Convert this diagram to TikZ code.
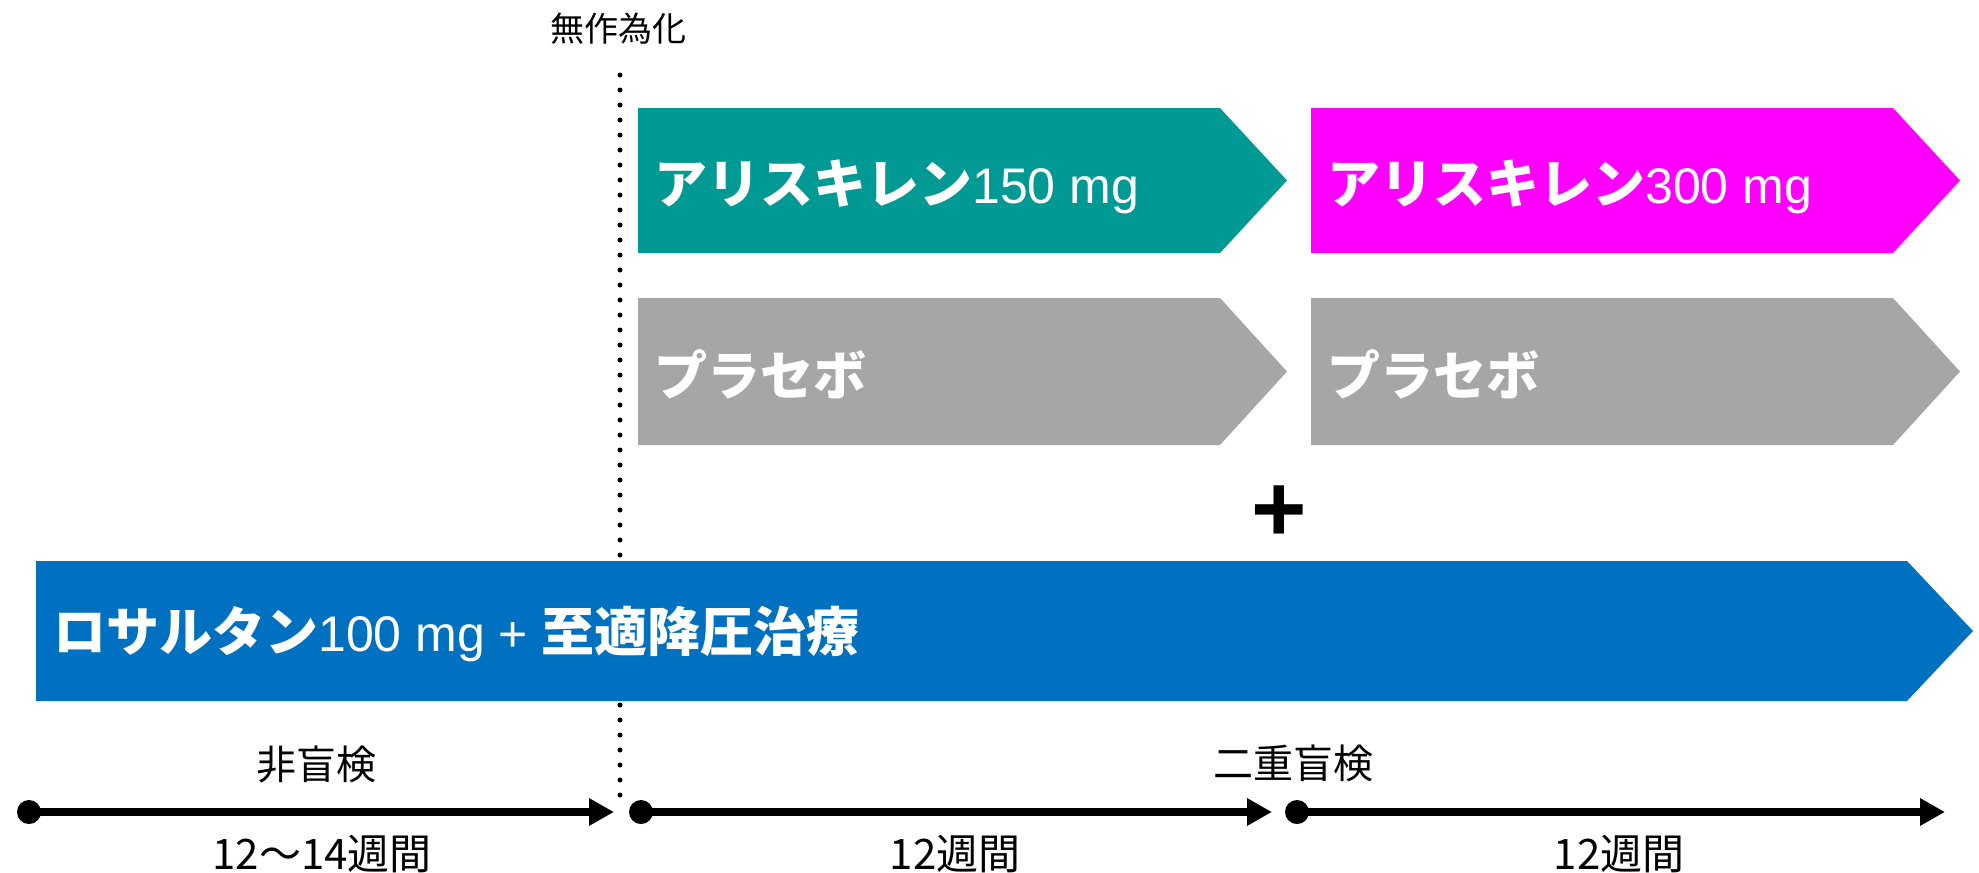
\documentclass[tikz,border=0pt]{standalone}
\usepackage{fontspec}
\setmainfont{Liberation Sans}
\newfontfamily\jp{Noto Sans CJK JP}
\usetikzlibrary{arrows.meta}
\definecolor{armteal}{RGB}{0,153,148}
\definecolor{armmag}{RGB}{255,0,255}
\definecolor{armgray}{RGB}{166,166,166}
\definecolor{armblue}{RGB}{0,112,192}
\newcommand\jpb[1]{{\jp\bfseries #1}}
\newcommand\latn[1]{{\fontsize{50}{60}\selectfont #1}}
\tikzset{
  armlabel/.style={anchor=base west, text=white, inner sep=0pt, font=\fontsize{53}{60}\selectfont},
  tllabel/.style={anchor=base, inner sep=0pt, font=\jp\fontsize{40}{48}\selectfont},
  durlabel/.style={anchor=base, inner sep=0pt, font=\jp\fontsize{42}{50}\selectfont},
  tldot/.style={circle, fill=black, minimum size=24pt, inner sep=0pt},
  tlline/.style={line width=8pt, -{Triangle[length=25pt,width=26pt]}},
  randline/.style={line width=5pt, line cap=round, dash pattern=on 0pt off 15pt}
}
\begin{document}
\begin{tikzpicture}[x=1pt,y=-1pt]
\useasboundingbox (0,0) rectangle (1979,873);
% randomization
\node[anchor=base, inner sep=0pt, font=\jp\fontsize{34}{40}\selectfont] (rand) at (618,41) {無作為化};
\coordinate (rtop) at (620,75);
\coordinate (rbot) at (620,808);
\draw[randline] (rtop) -- (rbot);
% arm shapes
\fill[armteal] (638,108) -- (1220,108) -- (1287,180.5) -- (1220,253) -- (638,253) -- cycle;
\fill[armmag] (1311,108) -- (1893,108) -- (1960,180.5) -- (1893,253) -- (1311,253) -- cycle;
\fill[armgray] (638,298) -- (1220,298) -- (1287,371.5) -- (1220,445) -- (638,445) -- cycle;
\fill[armgray] (1311,298) -- (1893,298) -- (1960,371.5) -- (1893,445) -- (1311,445) -- cycle;
\fill[armblue] (36,561) -- (1907,561) -- (1973,631) -- (1907,701) -- (36,701) -- cycle;
% arm labels
\node[armlabel] (a150) at (654,203) {\jpb{アリスキレン}\latn{150 mg}};
\node[armlabel] (a300) at (1327,203) {\jpb{アリスキレン}\latn{300 mg}};
\node[armlabel] (p1) at (654,395) {\jpb{プラセボ}};
\node[armlabel] (p2) at (1327,395) {\jpb{プラセボ}};
\node[armlabel] (los) at (53,651) {\jpb{ロサルタン}\latn{100 mg + }\jpb{至適降圧治療}};
\node[anchor=base, inner sep=0pt, font=\bfseries\fontsize{95}{100}\selectfont] (plus) at (1279,541) {+};
% timeline
\node[tldot] (d1) at (29,812) {};
\node[tldot] (d2) at (641,812) {};
\node[tldot] (d3) at (1297,812) {};
\coordinate (t1) at (614,812);
\coordinate (t2) at (1272,812);
\coordinate (t3) at (1945,812);
\draw[tlline] (d1.center) -- (t1);
\draw[tlline] (d2.center) -- (t2);
\draw[tlline] (d3.center) -- (t3);
\node[tllabel] (ob) at (316,779) {非盲検};
\node[tllabel] (db) at (1293,778) {二重盲検};
\node[durlabel] (w1) at (322,869) {12～14週間};
\node[durlabel] (w2) at (955,869) {12週間};
\node[durlabel] (w3) at (1619,869) {12週間};
\end{tikzpicture}
\end{document}
